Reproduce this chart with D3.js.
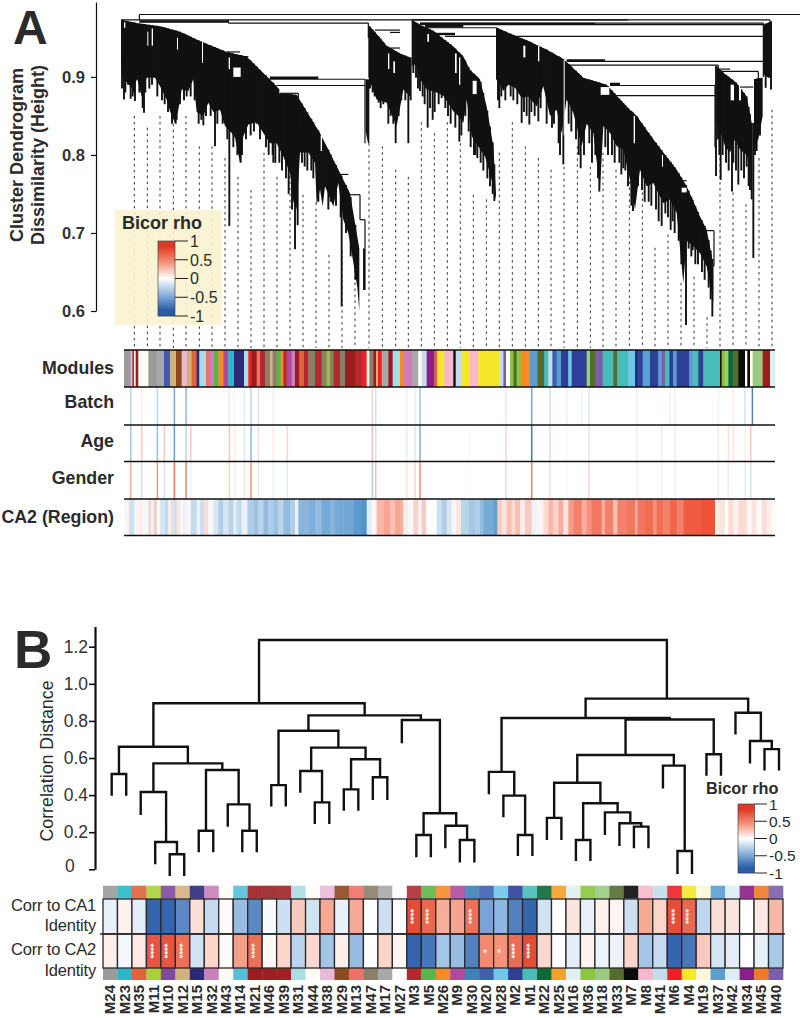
<!DOCTYPE html>
<html><head><meta charset="utf-8">
<script src="https://cdn.jsdelivr.net/npm/d3@7"></script>
<style>html,body{margin:0;background:#fff}svg{display:block}text{font-family:"Liberation Sans",Arial,sans-serif;fill:#2b2b2b}</style>
</head><body><svg id="c" width="800" height="1018"></svg>
<script>
// ---------- DATA ----------
const modules=["M24","M23","M35","M11","M10","M12","M15","M32","M43","M14","M21","M46","M39","M31","M44","M38","M29","M13","M47","M17","M27","M3","M5","M26","M9","M30","M20","M28","M2","M1","M22","M25","M16","M36","M18","M33","M7","M8","M41","M6","M4","M19","M37","M42","M34","M45","M40"];
const corrCA1=[-.1,.06,-.12,-.95,-.95,-.75,.15,-.25,.02,-.45,-.75,-.03,-.22,.25,-.2,.4,-.1,.4,0,-.22,-.02,.9,.75,.38,.42,.7,-.6,-.5,-.8,-.95,-.2,0,.12,-.1,.06,.05,-.22,.4,.2,.88,.75,-.28,.15,.12,0,.1,.33];
const corrCA2=[.08,-.05,.1,.85,.85,.7,-.2,.2,.02,.45,.7,.03,.2,-.3,.18,-.4,.08,-.45,0,.2,.05,-.95,-.85,-.4,-.45,-.8,.55,.5,.72,.9,.18,0,-.12,.06,-.08,-.08,.2,-.4,-.25,-.95,-.85,.25,-.18,-.12,0,-.1,-.38];
const starsCA1={M3:"****",M5:"****",M30:"****",M6:"****",M4:"****"};
const starsCA2={M11:"****",M10:"****",M12:"****",M21:"****",M20:"*",M28:"*",M2:"****",M1:"****"};
const rhoStops=[-1,-.5,0,.5,1];
const heightTicksA=[.6,.7,.8,.9];
const heightTicksB=[0,.2,.4,.6,.8,1,1.2];
const rhoTicks=[1,.5,0,-.5,-1];

// Panel A lobes: gene position, height
const lobe1Top=[[363,.973],[410,.969],[480,.965],[540,.958],[600,.946],[680,.932],[740,.926],[800,.901],[850,.879],[890,.877],[960,.828],[1020,.777],[1050,.751],[1078,.68]];
const lobe1Bottom=[[363,.922],[368,.899],[395,.886],[412,.897],[425,.875],[440,.899],[465,.899],[480,.888],[500,.871],[510,.856],[525,.841],[535,.858],[545,.884],[565,.882],[580,.897],[590,.855],[610,.85],[625,.867],[640,.855],[660,.858],[675,.837],[695,.828],[705,.822],[720,.79],[730,.824],[745,.839],[770,.842],[790,.828],[810,.815],[830,.815],[850,.798],[870,.777],[880,.74],[890,.73],[900,.803],[925,.803],[945,.79],[950,.736],[960,.756],[968,.734],[975,.76],[1000,.734],[1015,.764],[1030,.717],[1045,.7],[1060,.662],[1072,.63],[1078,.6]];
const lobe1Drips=[[372,.871],[392,.872],[405,.869],[432,.854],[527,.84],[610,.838],[645,.811],[688,.709],[722,.79],[770,.84],[820,.79],[885,.679],[893,.71],[955,.74],[1025,.606],[1092,.627],
 [366,.885],[376,.88],[384,.89],[398,.875],[402,.88],[418,.88],[428,.86],[436,.88],[448,.885],[456,.89],[472,.875],[486,.87],[494,.865],[504,.855],[516,.84],[530,.845],[540,.865],[552,.87],[560,.875],[572,.875],[584,.87],[596,.84],[604,.845],[618,.85],[632,.85],[652,.84],[668,.84],[682,.82],[700,.81],[712,.8],[726,.8],[738,.82],[752,.825],[762,.83],[780,.82],[798,.81],[806,.8],[818,.8],[826,.79],[838,.79],[846,.78],[858,.77],[866,.75],[876,.73],[906,.79],[914,.785],[922,.78],[934,.78],[940,.77],[985,.73],[992,.74],[1008,.735],[1022,.72],[1038,.7],[1052,.67],[1066,.64]];
const lobe1bTop=[[1097,.897],[1108,.897]];
const lobe1bBottom=[[1097,.83],[1104,.815],[1108,.815]];
const lobe2aTop=[[1105,.967],[1130,.955],[1160,.94],[1200,.93],[1230,.925]];
const lobe2aBottom=[[1105,.9],[1130,.871],[1160,.867],[1190,.837],[1210,.884],[1230,.875]];
const lobe2aDrips=[[1136,.867],[1165,.84],[1187,.815],[1225,.815],[1232,.87],[1110,.885],[1118,.88],[1124,.875],[1142,.86],[1150,.865],[1172,.85],[1180,.84],[1196,.85],[1204,.87],[1216,.87]];
const lobe2bTop=[[1235,.973],[1260,.967],[1300,.959],[1360,.939],[1390,.926],[1410,.909],[1440,.897],[1460,.862],[1480,.811],[1488,.75]];
const lobe2bBottom=[[1235,.914],[1245,.916],[1260,.897],[1280,.884],[1310,.88],[1330,.876],[1360,.856],[1375,.85],[1390,.841],[1400,.871],[1415,.824],[1435,.811],[1455,.798],[1475,.768],[1488,.743]];
const lobe2bDrips=[[1248,.899],[1260,.882],[1283,.835],[1298,.845],[1325,.873],[1378,.817],[1422,.8],[1432,.796],[1483,.741],[1240,.905],[1254,.885],[1268,.875],[1274,.865],[1290,.86],[1304,.855],[1316,.865],[1336,.86],[1344,.85],[1352,.84],[1366,.835],[1384,.825],[1396,.85],[1406,.83],[1412,.81],[1426,.8],[1442,.79],[1450,.78],[1462,.77],[1470,.76],[1478,.75]];
const lobe3Top=[[1490,.963],[1550,.952],[1585,.946],[1640,.935],[1690,.923],[1750,.899],[1820,.89],[1880,.862],[1910,.85],[1960,.82],[2030,.781],[2060,.76],[2100,.721],[2120,.704],[2140,.66]];
const lobe3Bottom=[[1488,.897],[1498,.892],[1510,.882],[1525,.89],[1545,.886],[1565,.873],[1585,.875],[1610,.862],[1630,.888],[1650,.85],[1670,.858],[1685,.828],[1700,.871],[1720,.854],[1745,.811],[1760,.84],[1780,.828],[1800,.756],[1810,.837],[1830,.828],[1850,.811],[1870,.807],[1890,.768],[1905,.73],[1920,.781],[1940,.76],[1960,.764],[1990,.738],[2010,.743],[2030,.726],[2050,.636],[2060,.69],[2080,.683],[2100,.674],[2120,.657],[2140,.612]];
const lobe3Drips=[[1498,.86],[1565,.841],[1588,.839],[1615,.843],[1690,.788],[1742,.783],[1798,.753],[1870,.783],[1899,.728],[1910,.78],[1985,.709],[2012,.704],[2058,.582],[2137,.593],[2078,.678],
 [1494,.87],[1504,.875],[1516,.87],[1532,.875],[1540,.87],[1552,.865],[1572,.855],[1580,.85],[1594,.855],[1604,.85],[1622,.86],[1640,.84],[1656,.835],[1662,.84],[1676,.815],[1680,.8],[1706,.84],[1714,.83],[1728,.82],[1736,.8],[1752,.8],[1768,.815],[1776,.79],[1786,.8],[1794,.77],[1816,.81],[1824,.8],[1836,.8],[1844,.79],[1858,.79],[1864,.775],[1876,.78],[1884,.76],[1894,.735],[1914,.76],[1926,.755],[1934,.74],[1946,.74],[1954,.735],[1968,.73],[1976,.715],[1996,.725],[2004,.72],[2018,.715],[2024,.7],[2036,.69],[2044,.66],[2066,.68],[2074,.67],[2086,.66],[2094,.66],[2106,.65],[2114,.64],[2126,.63],[2132,.615]];
const lobe4Top=[[2150,.914],[2165,.907],[2190,.899],[2210,.892],[2240,.875],[2255,.841]];
const lobe4Bottom=[[2150,.841],[2160,.832],[2175,.811],[2190,.803],[2205,.82],[2220,.807],[2240,.8],[2255,.781]];
const lobe4Drips=[[2148,.773],[2162,.768],[2196,.753],[2215,.762],[2260,.668],[2240,.785],[2255,.743],[2154,.82],[2158,.8],[2168,.8],[2178,.79],[2186,.78],[2200,.79],[2208,.78],[2224,.78],[2232,.77],[2246,.76],[2250,.755]];
const lobe5Top=[[2262,.897],[2285,.899]];
const lobe5Bottom=[[2262,.811],[2275,.82],[2288,.85]];
const lobe5Drips=[[2265,.8],[2270,.805],[2280,.825]];
const lobe6Top=[[2290,.967],[2312,.971]];
const lobe6Bottom=[[2290,.903],[2305,.899],[2315,.899]];
const lobe6Drips=[[2297,.886],[2313,.884]];
const lobes=[[lobe1Top,lobe1Bottom,lobe1Drips],[lobe1bTop,lobe1bBottom,[]],[lobe2aTop,lobe2aBottom,lobe2aDrips],[lobe2bTop,lobe2bBottom,lobe2bDrips],[lobe3Top,lobe3Bottom,lobe3Drips],[lobe4Top,lobe4Bottom,lobe4Drips],[lobe5Top,lobe5Bottom,lobe5Drips],[lobe6Top,lobe6Bottom,lobe6Drips]];
// gaps inside the silhouette: x0,x1,hTop,hBottom
const holes=[[372,376,.97,.963],[442,445,.958,.94],[455,459,.962,.94],[531,534,.95,.935],[606,609,.945,.918],[686,690,.925,.91],[700,722,.912,.9],[838,890,.886,.879],[962,966,.825,.805],[1164,1168,.93,.91],[1180,1185,.92,.905],[1282,1287,.955,.945],[1365,1370,.93,.905],[1377,1381,.925,.89],[1418,1430,.895,.878],[1570,1576,.94,.925],[1614,1618,.94,.92],[1691,1694,.922,.825],[1802,1828,.887,.877],[1901,1905,.85,.815],[1986,1989,.8,.785],[2045,2060,.758,.752],[2192,2202,.89,.87],[2217,2223,.89,.87]];
// dendrogram merge lines: x0,x1,h
const mergesH=[[418,2480,.98],[363,1885,.973],[685,1105,.969],[1235,2310,.973],[1260,2290,.969],[1275,2290,.967],[1335,2290,.952],[1275,1490,.963],[1700,2290,.92],[1705,2155,.915],[1830,2145,.889],[1845,2145,.876],[810,1095,.897],[830,1095,.889],[1125,1200,.96],[1170,1200,.957],[1170,1200,.937],[680,720,.932],[680,745,.926],[840,895,.879],[1020,1045,.775],[1045,1080,.749],[1080,1095,.717],[2040,2060,.767],[2115,2142,.703],[2150,2190,.91],[2160,2275,.907],[2220,2260,.887]];
const mergesThick=[[418,685,.971],[1260,1785,.968],[1275,1390,.965],[1290,1365,.955],[810,955,.899],[1700,1815,.921],[1830,1860,.891]];
const mergesV=[[418,.98,.973],[2480,.98,.973],[685,.973,.969],[1105,.969,.95],[2290,.969,.9],[2310,.973,.965],[2155,.915,.84],[2145,.889,.81],[1095,.897,.815],[895,.879,.83],[1080,.749,.717],[1095,.717,.627],[2142,.703,.657],[2275,.907,.895],[1490,.963,.95]];
const guideX=[403,442,480,520,558,598,636,675,714,753,792,831,870,909,948,987,1026,1065,1107,1147,1187,1225,1264,1303,1342,1381,1420,1459,1498,1537,1576,1615,1653,1692,1732,1771,1809,1848,1888,1927,1965,2004,2043,2082,2121,2160,2199,2238,2277,2316];
const guideH=[.85,.835,.85,.84,.85,.811,.811,.796,.772,.755,.803,.772,.781,.749,.739,.672,.678,.675,.815,.811,.781,.772,.842,.828,.842,.815,.749,.743,.803,.842,.811,.796,.781,.785,.811,.785,.803,.781,.766,.752,.681,.698,.636,.644,.592,.796,.752,.737,.796,.858];
const geneDomain=[372,2325];
// Track strips
const moduleSegments=[["M24",392],["M38",397],["M3",402],["M44",407],["M21",415],["M43",445],["M24",470],["M17",492],["M20",510],["M12",528],["M29",545],["M38",560],["M12",575],["M35",590],["M15",598],["M31",618],["M13",630],["M32",640],["M5",655],["M26",670],["M9",685],["M23",702],["M15",732],["M31",745],["M6",755],["M21",770],["M13",780],["M3",795],["M47",810],["M12",818],["M47",830],["M5",842],["M26",850],["M3",860],["M9",875],["M32",885],["M21",898],["M35",912],["M3",925],["M47",945],["M3",965],["M47",980],["M36",990],["M47",1000],["M3",1020],["M47",1035],["M21",1065],["M3",1085],["M6",1100],["M43",1108],["M47",1120],["M21",1128],["M12",1134],["M6",1145],["M17",1165],["M21",1178],["M31",1200],["M26",1212],["M32",1237],["M17",1255],["M43",1265],["M41",1280],["M34",1303],["M35",1312],["M4",1333],["M8",1360],["M7",1367],["M41",1385],["M4",1408],["M8",1435],["M4",1498],["M41",1510],["M40",1518],["M44",1530],["M36",1540],["M33",1550],["M36",1562],["M26",1590],["M37",1612],["M33",1633],["M1",1645],["M41",1657],["M20",1670],["M37",1683],["M2",1705],["M28",1715],["M2",1760],["M18",1770],["M33",1785],["M40",1808],["M1",1840],["M33",1852],["M1",1885],["M28",1905],["M15",1915],["M2",1928],["M37",1950],["M2",1975],["M37",1985],["M40",1995],["M1",2008],["M2",2020],["M37",2030],["M2",2068],["M37",2080],["M1",2095],["M2",2110],["M1",2160],["M7",2165],["M36",2175],["M18",2185],["M22",2200],["M33",2215],["M7",2235],["M43",2242],["M7",2250],["M43",2258],["M18",2288],["M21",2310],["M16",2325]];
const batchLines=[[392,-.3],[425,.08],[472,-.3],[523,-.6],[558,-.5],[688,-.12],[703,.05],[733,-.12],[753,-.3],[775,-.2],[820,-.1],[1117,.2],[1127,-.2],[1220,-.1],[1245,-.1],[1260,-.4],[1518,-.12],[1595,-.6],[1650,-.2],[1700,-.1],[1745,-.08],[1767,-.15],[1910,-.1],[2010,.08],[2025,.08],[2155,.08],[2200,.08],[2235,-.2],[2257,-.8]];
const ageLines=[[392,-.4],[425,.25],[472,-.45],[493,.25],[523,-.65],[558,-.3],[572,.25],[688,.25],[705,.1],[733,-.15],[753,-.5],[775,.15],[820,.1],[862,.2],[1117,.3],[1127,-.2],[1220,-.12],[1245,-.15],[1260,-.55],[1408,-.05],[1518,.2],[1595,-.85],[1650,-.2],[1700,.05],[1767,-.15],[1910,-.1],[1985,.1],[2025,.12],[2155,.1],[2185,.15],[2200,.12],[2235,.08],[2252,.25]];
const genderLines=[[392,.4],[425,-.2],[472,.5],[493,-.2],[523,.65],[558,.6],[572,-.1],[688,.2],[705,-.08],[733,.12],[753,.5],[775,-.15],[820,-.1],[862,-.15],[1117,-.35],[1127,.3],[1220,.12],[1245,.2],[1260,.55],[1408,.04],[1518,-.2],[1595,.6],[1650,.15],[1700,-.05],[1767,.2],[1910,.08],[1985,-.08],[2025,-.1],[2155,-.1],[2185,-.1],[2235,-.1],[2252,-.2]];
const regionSegments=[[372,-.05],[382,.1],[388,-.25],[402,-.08],[412,.08],[430,-.05],[445,.25],[452,-.1],[462,.3],[470,-.05],[480,-.2],[495,-.3],[505,-.1],[512,.2],[520,-.25],[530,.15],[540,.05],[548,-.1],[560,.05],[572,-.3],[590,-.1],[600,-.25],[612,.2],[625,-.05],[640,-.2],[655,-.4],[670,-.2],[685,-.35],[700,-.15],[710,-.3],[725,-.1],[742,-.4],[760,-.5],[775,-.35],[790,-.55],[805,-.4],[820,-.5],[835,-.35],[850,-.55],[870,-.4],[885,-.1],[895,-.6],[925,-.65],[945,-.55],[965,-.7],[990,-.6],[1005,-.7],[1030,-.72],[1060,-.82],[1085,-.88],[1100,-.15],[1115,.05],[1130,.4],[1150,.5],[1170,.35],[1185,.5],[1200,.45],[1210,.1],[1225,-.05],[1240,.25],[1255,-.08],[1265,.3],[1278,.02],[1300,-.02],[1310,-.25],[1325,-.4],[1340,-.2],[1355,-.05],[1368,.15],[1383,-.35],[1405,-.45],[1425,-.4],[1440,-.55],[1450,-.7],[1480,-.8],[1492,.3],[1505,.15],[1520,.35],[1535,.2],[1545,.35],[1560,.1],[1575,.3],[1595,-.1],[1610,.05],[1630,.2],[1645,.4],[1660,.25],[1675,.45],[1690,.15],[1705,.55],[1720,.7],[1745,.45],[1760,.6],[1775,.75],[1805,.45],[1815,.7],[1840,.35],[1852,.7],[1880,.75],[1905,.45],[1912,.75],[1935,.8],[1960,.6],[1970,.8],[1990,.7],[2010,.85],[2030,.7],[2050,.9],[2105,.95],[2145,.05],[2155,.15],[2175,-.02],[2185,.2],[2200,.08],[2215,.2],[2240,.05],[2255,.15],[2270,.02],[2285,.18],[2300,.1],[2315,.02],[2325,0]];

// Panel B tree: [height,left,right]; leaf: [module,lowerEnd]
const tree=[1.236,
 [.895,
  [.661,[.514,["M24",.397],["M23",.397]],
   [.571,[.417,["M35",.293],[.147,["M11",.027],[.081,["M10",-.036],["M12",-.036]]]],
    [.535,[.208,["M15",.092],["M32",.092]],[.35,["M43",.23],[.208,["M14",.092],["M21",.092]]]]]],
  [.83,
   [.747,[.454,["M46",.338],["M39",.338]],
    [.656,[.53,["M31",.413],[.361,["M44",.244],["M38",.244]]],
     [.593,[.431,["M29",.316],["M13",.316]],[.496,["M47",.374],["M17",.374]]]]],
   [.805,["M27",.679],[.302,[.185,["M3",.065],["M5",.065]],[.235,["M26",.113],[.158,["M9",.036],["M30",.036]]]]]]],
 [.92,
  [.816,
   [.525,["M20",.404],[.397,["M28",.28],[.185,["M2",.072],["M1",.072]]]],
   [.808,
    [.616,[.467,[.277,["M22",.158],["M25",.158]],[.356,[.158,["M16",.045],["M36",.045]],[.307,["M18",.185],[.248,["M33",.126],[.23,["M7",.113],["M8",.113]]]]]],
     [.559,["M41",.436],[.099,["M6",-.025],["M4",-.025]]]],
    [.62,["M19",.505],["M37",.505]]]],
  [.844,["M42",.727],[.692,["M34",.571],[.648,["M45",.532],["M40",.532]]]]]];

// ---------- STYLE ----------
const moduleColor={M24:"#9b9b9b",M23:"#2ab8c8",M35:"#e0623a",M11:"#a8d13a",M10:"#7d4a9e",M12:"#d4b080",M15:"#2a2a78",M32:"#c980b8",M43:"#fdfdf5",M14:"#55c0dc",M21:"#9a1c20",M46:"#9a2024",M39:"#a02224",M31:"#a8dde4",M44:"#fdfdf5",M38:"#eab8d8",M29:"#8c4a20",M13:"#f26f68",M47:"#8a8068",M17:"#a8a8a8",M27:"#fcfcfc",M3:"#b02a30",M5:"#5ab54a",M26:"#f58a28",M9:"#b04a9e",M30:"#3f80b8",M20:"#3e5fae",M28:"#6ec8ea",M2:"#2e3f98",M1:"#48bdb8",M22:"#0a6a38",M25:"#f5a028",M16:"#e0f0f0",M36:"#8cc63f",M18:"#9acb80",M33:"#556b2f",M7:"#0a0a0a",M8:"#f8b8cc",M41:"#c4dcec",M6:"#ee2024",M4:"#f5e82a",M19:"#fbf8d8",M37:"#5a9fd0",M42:"#dceef6",M34:"#8a1e8a",M45:"#f07a28",M40:"#7b5ea8"};
const rho=d3.scaleLinear().domain(rhoStops).range(["#2a5ca8","#8db6e0","#ffffff","#f4937a","#e03a25"]).clamp(true);
const ink="#111";
const svg=d3.select("#c");

// ---------- PANEL A ----------
const xG=d3.scaleLinear().domain(geneDomain).range([124,775]);
const yA=d3.scaleLinear().domain([.6,.996]).range([311,2]);
const A=svg.append("g");

A.append("g").selectAll("line").data(d3.zip(guideX,guideH)).join("line")
 .attr("x1",d=>xG(d[0])).attr("x2",d=>xG(d[0])).attr("y1",d=>yA(d[1])).attr("y2",348)
 .attr("stroke","#333").attr("stroke-width",1).attr("stroke-dasharray","2.5 3.5");

lobes.forEach(([top,bottom,drips])=>{
  const topAt=d3.scaleLinear().domain(top.map(d=>d[0])).range(top.map(d=>d[1])).clamp(true);
  const bottomAt=d3.scaleLinear().domain(bottom.map(d=>d[0])).range(bottom.map(d=>d[1])).clamp(true);
  const xs=[...new Set([...top,...bottom].map(d=>d[0]))].sort(d3.ascending);
  const area=d3.area().x(d=>xG(d)).y0(d=>yA(bottomAt(d))).y1(d=>yA(topAt(d)));
  A.append("path").attr("d",area(xs)).attr("fill",ink);
  A.append("g").selectAll("line").data(drips).join("line")
   .attr("x1",d=>xG(d[0])).attr("x2",d=>xG(d[0])).attr("y1",d=>yA(topAt(d[0]))).attr("y2",d=>yA(d[1]))
   .attr("stroke",ink).attr("stroke-width",1.9);
});
A.append("g").selectAll("rect").data(holes).join("rect")
 .attr("x",d=>xG(d[0])).attr("width",d=>xG(d[1])-xG(d[0]))
 .attr("y",d=>yA(d[2])).attr("height",d=>yA(d[3])-yA(d[2])).attr("fill","#fff");
A.append("g").selectAll("line.h").data(mergesH).join("line")
 .attr("x1",d=>xG(d[0])).attr("x2",d=>xG(d[1])).attr("y1",d=>yA(d[2])).attr("y2",d=>yA(d[2]))
 .attr("stroke",ink).attr("stroke-width",1.2);
A.append("g").selectAll("line.t").data(mergesThick).join("line")
 .attr("x1",d=>xG(d[0])).attr("x2",d=>xG(d[1])).attr("y1",d=>yA(d[2])).attr("y2",d=>yA(d[2]))
 .attr("stroke",ink).attr("stroke-width",2.4);
A.append("g").selectAll("line.v").data(mergesV).join("line")
 .attr("x1",d=>xG(d[0])).attr("x2",d=>xG(d[0])).attr("y1",d=>yA(d[1])).attr("y2",d=>yA(d[2]))
 .attr("stroke",ink).attr("stroke-width",1.2);

const axA=A.append("g").attr("transform","translate(96,0)")
 .call(d3.axisLeft(yA).tickValues(heightTicksA).tickFormat(d3.format(".1f")).tickSize(5).tickSizeOuter(0).tickPadding(6));
axA.select(".domain").attr("stroke",ink).attr("stroke-width",1.2);
axA.selectAll(".tick line").attr("stroke",ink).attr("stroke-width",1.2);
axA.selectAll("text").style("font-family",'"Liberation Sans"').style("font-size","16.5px").style("font-weight","bold").style("fill","#333");

[["Cluster Dendrogram",23],["Dissimilarity (Height)",44]].forEach(([t,x])=>
 A.append("text").text(t).attr("transform",`translate(${x},155) rotate(-90)`).attr("text-anchor","middle").attr("font-size",18).attr("font-weight","bold").attr("fill","#333"));
A.append("text").text("A").attr("x",13).attr("y",43.5).attr("font-size",48).attr("font-weight","bold");

function colorbar(g,x0,x1,y0,y1,tx,lx,fs,titleX,titleY,titleFs){
  const ys=d3.scaleLinear().domain([1,-1]).range([y0,y1]);
  g.append("g").selectAll("rect").data(d3.range(Math.round(y1-y0))).join("rect")
   .attr("x",x0).attr("width",x1-x0).attr("y",d=>y0+d).attr("height",1.2)
   .attr("fill",d=>rho(ys.invert(y0+d+.5)*1.18));
  g.append("rect").attr("x",x0).attr("y",y0).attr("width",x1-x0).attr("height",y1-y0).attr("fill","none").attr("stroke","#333").attr("stroke-width",.6);
  g.append("g").selectAll("line").data(rhoTicks).join("line")
   .attr("x1",x1).attr("x2",tx).attr("y1",d=>ys(d)).attr("y2",d=>ys(d)).attr("stroke","#222").attr("stroke-width",1);
  g.append("g").selectAll("text").data(rhoTicks).join("text").text(d=>d)
   .attr("x",lx).attr("y",d=>ys(d)).attr("dy","0.36em").attr("font-size",fs);
  g.append("text").text("Bicor rho").attr("x",titleX).attr("y",titleY).attr("font-size",titleFs).attr("font-weight","bold");
}
A.append("rect").attr("x",115).attr("y",210).attr("width",107).attr("height",115).attr("fill","#faf3d0").attr("fill-opacity",.92);
colorbar(A,158,175,241,316,188,190,16,122,229,18);

// tracks
const T=svg.append("g");
T.append("g").selectAll("rect").data(moduleSegments).join("rect")
 .attr("x",(d,i)=>xG(i?moduleSegments[i-1][1]:geneDomain[0]))
 .attr("width",(d,i)=>xG(d[1])-xG(i?moduleSegments[i-1][1]:geneDomain[0])+.4)
 .attr("y",350).attr("height",37).attr("fill",d=>moduleColor[d[0]]);
[[batchLines,387,425],[ageLines,425,461.5],[genderLines,461.5,499]].forEach(([rows,a,b])=>{
 T.append("g").selectAll("rect").data(rows).join("rect")
  .attr("x",d=>xG(d[0])-.7).attr("width",1.5).attr("y",a).attr("height",b-a).attr("fill",d=>rho(d[1]));
});
T.append("g").selectAll("rect").data(regionSegments.slice(0,-1)).join("rect")
 .attr("x",d=>xG(d[0])).attr("width",(d,i)=>xG(regionSegments[i+1][0])-xG(d[0])+.4)
 .attr("y",499).attr("height",36.5).attr("fill",d=>d[1]<0?d3.interpolateRgb("#fff","#3a84c4")(-d[1]):d3.interpolateRgb("#fff","#ee4a2a")(d[1]));
T.append("g").selectAll("line").data([350,387,425,461.5,499,535.5]).join("line")
 .attr("x1",124).attr("x2",775).attr("y1",d=>d).attr("y2",d=>d).attr("stroke","#111").attr("stroke-width",1.3);
T.append("g").selectAll("text").data([["Modules",374],["Batch",408],["Age",447],["Gender",484],["CA2 (Region)",523]]).join("text")
 .text(d=>d[0]).attr("x",114).attr("y",d=>d[1]).attr("text-anchor","end").attr("font-size",17.8).attr("font-weight","bold").attr("fill","#333");

// ---------- PANEL B ----------
const B=svg.append("g");
const yB=d3.scaleLinear().domain([0,1.309]).range([869.3,626.5]);
const xLeaf=d3.scalePoint().domain(modules).range([111.7,779]);
const treePath=d3.path();
(function walk(n){
  if(typeof n[0]==="string"){return {x:xLeaf(n[0]),h:n[1]};}
  const l=walk(n[1]),r=walk(n[2]);
  treePath.moveTo(l.x,yB(l.h));treePath.lineTo(l.x,yB(n[0]));
  treePath.lineTo(r.x,yB(n[0]));treePath.lineTo(r.x,yB(r.h));
  return {x:(l.x+r.x)/2,h:n[0]};
})(tree);
B.append("path").attr("d",treePath.toString()).attr("fill","none").attr("stroke","#111").attr("stroke-width",2.4).attr("stroke-linejoin","miter");

const axB=B.append("g").attr("transform","translate(95,0)")
 .call(d3.axisLeft(yB).tickValues(heightTicksB).tickFormat(d=>d===0?"0":d3.format(".1f")(d)).tickSize(6).tickSizeOuter(0).tickPadding(1));
axB.select(".domain").attr("stroke","#111").attr("stroke-width",2.2);
axB.selectAll(".tick line").attr("stroke","#111").attr("stroke-width",1.6);
axB.selectAll("text").style("font-family",'"Liberation Sans"').style("font-size","17.5px").style("fill","#333");
axB.selectAll(".tick").filter(d=>d===0).select("text").attr("x",-30).attr("text-anchor","start").attr("dy","0.1em");
B.append("text").text("Correlation Distance").attr("transform","translate(53,761) rotate(-90)").attr("text-anchor","middle").attr("font-size",17.8).attr("fill","#333");
B.append("text").text("B").attr("x",14).attr("y",668).attr("font-size",53).attr("font-weight","bold");
colorbar(B,738,754.5,804,873,767,769,15.5,706,794,16.3);

// heatmap
const xCol=d3.scaleBand().domain(modules).range([103,783]);
const H=svg.append("g");
[[885.7,13,.9],[968,12,1]].forEach(([y,h,op])=>{
 H.append("g").selectAll("rect").data(modules).join("rect")
  .attr("x",d=>xCol(d)).attr("width",xCol.bandwidth()+.3).attr("y",y).attr("height",h).attr("fill",d=>moduleColor[d]).attr("opacity",op);
});
[[corrCA1,899,35,starsCA1],[corrCA2,934,34,starsCA2]].forEach(([vals,y,h,st])=>{
 H.append("g").selectAll("rect").data(modules).join("rect")
  .attr("x",d=>xCol(d)).attr("width",xCol.bandwidth()).attr("y",y).attr("height",h)
  .attr("fill",(d,i)=>rho(vals[i])).attr("stroke","#2a2a2a").attr("stroke-width",1.3);
 H.append("g").selectAll("text").data(modules.filter(m=>st[m])).join("text")
  .text(d=>st[d]).attr("transform",d=>`translate(${xCol(d)+xCol.bandwidth()/2},${y+h/2}) rotate(90)`)
  .attr("text-anchor","middle").attr("dy","0.62em").attr("font-size",9.5).attr("font-weight","bold").style("fill","#fff");
});
H.append("line").attr("x1",100).attr("x2",785).attr("y1",934).attr("y2",934).attr("stroke","#2a2a2a").attr("stroke-width",1.4);
H.append("g").selectAll("text").data(modules).join("text").text(d=>d)
 .attr("transform",d=>`translate(${xCol(d)+xCol.bandwidth()/2+5},985) rotate(-90)`)
 .attr("text-anchor","end").attr("font-size",15).attr("font-weight","bold").attr("fill","#333");
H.append("g").selectAll("text").data([["Corr to CA1",911],["Identity",931],["Corr to CA2",955],["Identity",976]]).join("text")
 .text(d=>d[0]).attr("x",96).attr("y",d=>d[1]).attr("text-anchor","end").attr("font-size",16.5).attr("letter-spacing","-0.2").attr("fill","#222");
</script></body></html>
